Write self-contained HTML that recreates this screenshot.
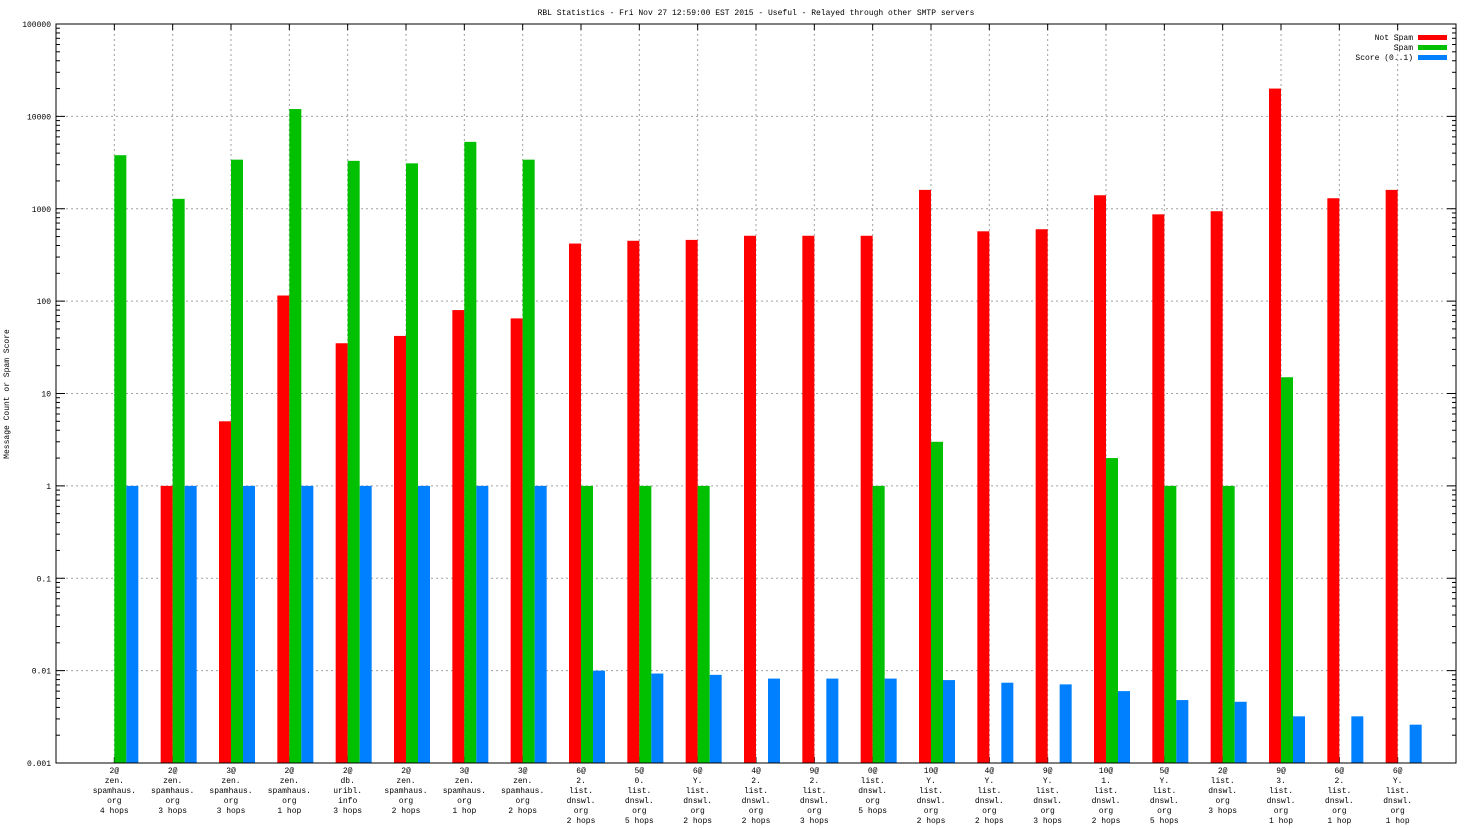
<!DOCTYPE html>
<html><head><meta charset="utf-8"><style>
html,body{margin:0;padding:0;background:#fff;}
svg{display:block;font-family:"Liberation Mono",monospace;}
</style></head><body>
<svg id="chart" width="1472" height="828" xmlns="http://www.w3.org/2000/svg"></svg>
<script>
const categories = [
 ["2@","zen.","spamhaus.","org","4 hops"],["2@","zen.","spamhaus.","org","3 hops"],["3@","zen.","spamhaus.","org","3 hops"],
 ["2@","zen.","spamhaus.","org","1 hop"],["2@","db.","uribl.","info","3 hops"],["2@","zen.","spamhaus.","org","2 hops"],
 ["3@","zen.","spamhaus.","org","1 hop"],["3@","zen.","spamhaus.","org","2 hops"],["6@","2.","list.","dnswl.","org","2 hops"],
 ["5@","0.","list.","dnswl.","org","5 hops"],["6@","Y.","list.","dnswl.","org","2 hops"],["4@","2.","list.","dnswl.","org","2 hops"],
 ["9@","2.","list.","dnswl.","org","3 hops"],["0@","list.","dnswl.","org","5 hops"],["10@","Y.","list.","dnswl.","org","2 hops"],
 ["4@","Y.","list.","dnswl.","org","2 hops"],["9@","Y.","list.","dnswl.","org","3 hops"],["10@","1.","list.","dnswl.","org","2 hops"],
 ["5@","Y.","list.","dnswl.","org","5 hops"],["2@","list.","dnswl.","org","3 hops"],["9@","3.","list.","dnswl.","org","1 hop"],
 ["6@","2.","list.","dnswl.","org","1 hop"],["6@","Y.","list.","dnswl.","org","1 hop"]
];
const notSpam = [0,1,5,115,35,42,80,65,420,450,460,510,510,510,1600,570,600,1400,870,940,20000,1300,1600];
const spam = [3800,1280,3400,12000,3300,3100,5300,3400,1,1,1,0,0,1,3,0,0,2,1,1,15,0,0];
const score = [1,1,1,1,1,1,1,1,0.0100,0.0093,0.0090,0.0082,0.0082,0.0082,0.0079,0.0074,0.0071,0.0060,0.0048,0.0046,0.0032,0.0032,0.0026];
const yTicks = ["0.001","0.01","0.1","1","10","100","1000","10000","100000"];
const seriesNames = ["Not Spam","Spam","Score (0..1)"];
const seriesColors = ["#ff0000","#00c000","#0080ff"];

const L=56,R=1456,T=24,B=763,NS="http://www.w3.org/2000/svg";
const svg=document.getElementById('chart');
const yMin=-3,yMax=5;
function yScale(v){return B-(Math.log10(v)-yMin)/(yMax-yMin)*(B-T);}
const step=(R-L)/(categories.length+1);
function xScale(i){return L+step*(i+1);}
function mk(tag,attrs,text){const e=document.createElementNS(NS,tag);for(const k in attrs)e.setAttribute(k,attrs[k]);if(text!==undefined)e.textContent=text;svg.appendChild(e);return e;}

// grid + ticks
yTicks.forEach((t,k)=>{
  const y=yScale(parseFloat(t));
  if(k>0&&k<yTicks.length-1){const g=mk('line',{x1:L,x2:R,y1:y,y2:y,stroke:'#a0a0a0','stroke-dasharray':'2,3','stroke-width':1});
  
  }
  const tx=mk('text',{x:L-5,y:y+3,'font-size':8,'text-anchor':'end'},t);
  
  
  mk('line',{x1:L,x2:L+9,y1:y,y2:y,stroke:'#000'});
  mk('line',{x1:R,x2:R-9,y1:y,y2:y,stroke:'#000'});
  if(k<yTicks.length-1){for(let m=2;m<10;m++){const yy=yScale(parseFloat(t)*m);
    mk('line',{x1:L,x2:L+4,y1:yy,y2:yy,stroke:'#000'});mk('line',{x1:R,x2:R-4,y1:yy,y2:yy,stroke:'#000'});}}
});
categories.forEach((c,i)=>{
  const x=xScale(i);
  const g=mk('line',{x1:x,x2:x,y1:T,y2:B,stroke:'#a0a0a0','stroke-dasharray':'2,3'});
  
  
  mk('line',{x1:x,x2:x,y1:B,y2:B-6,stroke:'#000'});
  mk('line',{x1:x,x2:x,y1:T,y2:T+6,stroke:'#000'});
  c.forEach((line,j)=>{
    const t=mk('text',{x:x,y:773+j*10,'font-size':8,'text-anchor':'middle'},line);
    
    
  });
});
// bars
[notSpam,spam,score].forEach((arr,s)=>{
  arr.forEach((v,i)=>{
    if(!(v>0))return;
    const x=xScale(i)+(s-1)*12, y=Math.max(T,yScale(v));
    const r=mk('rect',{x:x,y:y,width:12,height:B-y,fill:seriesColors[s]});
    
    
  });
});
// frame
const f=mk('rect',{x:L,y:T,width:R-L,height:B-T,fill:'none',stroke:'#000'});


// legend
seriesNames.forEach((n,s)=>{
  const y=37+s*10;
  const t=mk('text',{x:1413,y:y+3,'font-size':8,'text-anchor':'end'},n);
  
  
  const r=mk('rect',{x:1418,y:y-2,width:29,height:5,fill:seriesColors[s]});
  
  
});
const title=mk('text',{x:756,y:15,'font-size':8,'text-anchor':'middle'},"RBL Statistics - Fri Nov 27 12:59:00 EST 2015 - Useful - Relayed through other SMTP servers");


const yt=mk('text',{x:9,y:394,'font-size':8,'text-anchor':'middle',transform:'rotate(-90 9 394)'},"Message Count or Spam Score");


</script>
</body></html>
